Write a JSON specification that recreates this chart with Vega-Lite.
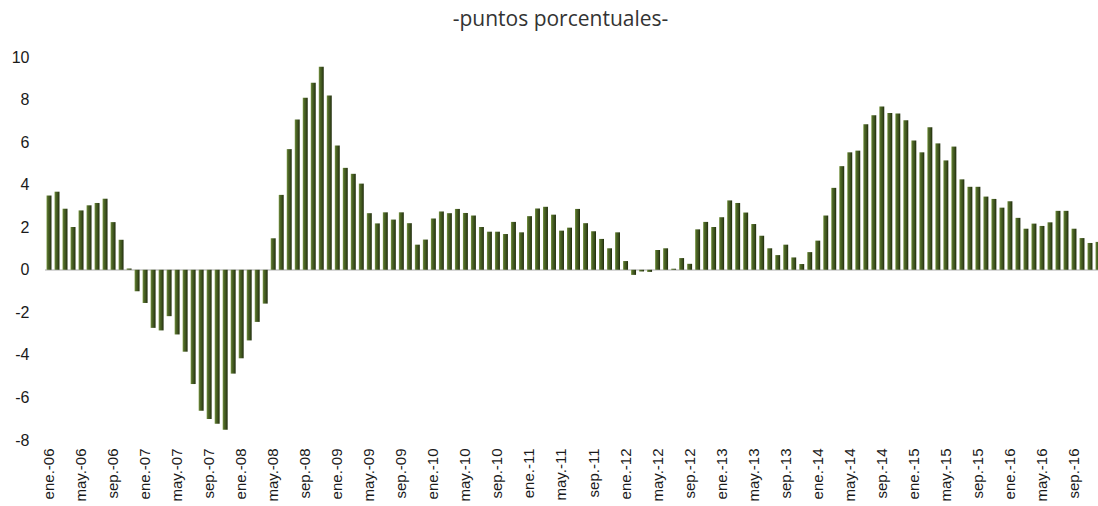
{
  "$schema": "https://vega.github.io/schema/vega-lite/v6.json",
  "autosize": "none",
  "width": 1057,
  "height": 383,
  "padding": {"left": 45, "top": 57, "right": 0, "bottom": 66},
  "background": "white",
  "title": {
    "text": "-puntos porcentuales-",
    "font": "Open Sans",
    "fontSize": 21,
    "fontWeight": "normal",
    "color": "#333333",
    "anchor": "middle",
    "frame": "group",
    "baseline": "alphabetic",
    "offset": 30,
    "dx": -13,
    "dy": 28
  },
  "config": {
    "view": {"stroke": null},
    "axis": {"labelFont": "Liberation Sans", "labelColor": "#1a1a1a", "grid": false, "ticks": false, "domain": false, "title": null}
  },
  "data": {
    "values": [
      {"mes": "ene.-06", "valor": 3.49}, {"mes": "feb.-06", "valor": 3.67}, {"mes": "mar.-06", "valor": 2.87}, {"mes": "abr.-06", "valor": 2.01},
      {"mes": "may.-06", "valor": 2.79}, {"mes": "jun.-06", "valor": 3.03}, {"mes": "jul.-06", "valor": 3.14}, {"mes": "ago.-06", "valor": 3.34},
      {"mes": "sep.-06", "valor": 2.24}, {"mes": "oct.-06", "valor": 1.41}, {"mes": "nov.-06", "valor": 0.06}, {"mes": "dic.-06", "valor": -1.01},
      {"mes": "ene.-07", "valor": -1.56}, {"mes": "feb.-07", "valor": -2.73}, {"mes": "mar.-07", "valor": -2.85}, {"mes": "abr.-07", "valor": -2.18},
      {"mes": "may.-07", "valor": -3.04}, {"mes": "jun.-07", "valor": -3.85}, {"mes": "jul.-07", "valor": -5.37}, {"mes": "ago.-07", "valor": -6.62},
      {"mes": "sep.-07", "valor": -7.01}, {"mes": "oct.-07", "valor": -7.24}, {"mes": "nov.-07", "valor": -7.52}, {"mes": "dic.-07", "valor": -4.88},
      {"mes": "ene.-08", "valor": -4.16}, {"mes": "feb.-08", "valor": -3.32}, {"mes": "mar.-08", "valor": -2.45}, {"mes": "abr.-08", "valor": -1.59},
      {"mes": "may.-08", "valor": 1.48}, {"mes": "jun.-08", "valor": 3.52}, {"mes": "jul.-08", "valor": 5.67}, {"mes": "ago.-08", "valor": 7.06},
      {"mes": "sep.-08", "valor": 8.08}, {"mes": "oct.-08", "valor": 8.79}, {"mes": "nov.-08", "valor": 9.54}, {"mes": "dic.-08", "valor": 8.19},
      {"mes": "ene.-09", "valor": 5.84}, {"mes": "feb.-09", "valor": 4.79}, {"mes": "mar.-09", "valor": 4.51}, {"mes": "abr.-09", "valor": 4.05},
      {"mes": "may.-09", "valor": 2.66}, {"mes": "jun.-09", "valor": 2.18}, {"mes": "jul.-09", "valor": 2.70}, {"mes": "ago.-09", "valor": 2.36},
      {"mes": "sep.-09", "valor": 2.70}, {"mes": "oct.-09", "valor": 2.19}, {"mes": "nov.-09", "valor": 1.18}, {"mes": "dic.-09", "valor": 1.42},
      {"mes": "ene.-10", "valor": 2.41}, {"mes": "feb.-10", "valor": 2.74}, {"mes": "mar.-10", "valor": 2.66}, {"mes": "abr.-10", "valor": 2.86},
      {"mes": "may.-10", "valor": 2.67}, {"mes": "jun.-10", "valor": 2.55}, {"mes": "jul.-10", "valor": 2.01}, {"mes": "ago.-10", "valor": 1.79},
      {"mes": "sep.-10", "valor": 1.79}, {"mes": "oct.-10", "valor": 1.68}, {"mes": "nov.-10", "valor": 2.25}, {"mes": "dic.-10", "valor": 1.76},
      {"mes": "ene.-11", "valor": 2.52}, {"mes": "feb.-11", "valor": 2.88}, {"mes": "mar.-11", "valor": 2.96}, {"mes": "abr.-11", "valor": 2.59},
      {"mes": "may.-11", "valor": 1.84}, {"mes": "jun.-11", "valor": 1.98}, {"mes": "jul.-11", "valor": 2.86}, {"mes": "ago.-11", "valor": 2.19},
      {"mes": "sep.-11", "valor": 1.81}, {"mes": "oct.-11", "valor": 1.45}, {"mes": "nov.-11", "valor": 1.01}, {"mes": "dic.-11", "valor": 1.76},
      {"mes": "ene.-12", "valor": 0.41}, {"mes": "feb.-12", "valor": -0.24}, {"mes": "mar.-12", "valor": -0.08}, {"mes": "abr.-12", "valor": -0.10},
      {"mes": "may.-12", "valor": 0.93}, {"mes": "jun.-12", "valor": 1.01}, {"mes": "jul.-12", "valor": 0.05}, {"mes": "ago.-12", "valor": 0.55},
      {"mes": "sep.-12", "valor": 0.28}, {"mes": "oct.-12", "valor": 1.90}, {"mes": "nov.-12", "valor": 2.25}, {"mes": "dic.-12", "valor": 2.01},
      {"mes": "ene.-13", "valor": 2.47}, {"mes": "feb.-13", "valor": 3.26}, {"mes": "mar.-13", "valor": 3.14}, {"mes": "abr.-13", "valor": 2.69},
      {"mes": "may.-13", "valor": 2.15}, {"mes": "jun.-13", "valor": 1.60}, {"mes": "jul.-13", "valor": 1.01}, {"mes": "ago.-13", "valor": 0.69},
      {"mes": "sep.-13", "valor": 1.18}, {"mes": "oct.-13", "valor": 0.58}, {"mes": "nov.-13", "valor": 0.27}, {"mes": "dic.-13", "valor": 0.83},
      {"mes": "ene.-14", "valor": 1.37}, {"mes": "feb.-14", "valor": 2.55}, {"mes": "mar.-14", "valor": 3.85}, {"mes": "abr.-14", "valor": 4.87},
      {"mes": "may.-14", "valor": 5.52}, {"mes": "jun.-14", "valor": 5.60}, {"mes": "jul.-14", "valor": 6.84}, {"mes": "ago.-14", "valor": 7.26},
      {"mes": "sep.-14", "valor": 7.67}, {"mes": "oct.-14", "valor": 7.37}, {"mes": "nov.-14", "valor": 7.34}, {"mes": "dic.-14", "valor": 7.03},
      {"mes": "ene.-15", "valor": 6.08}, {"mes": "feb.-15", "valor": 5.52}, {"mes": "mar.-15", "valor": 6.70}, {"mes": "abr.-15", "valor": 5.94},
      {"mes": "may.-15", "valor": 5.14}, {"mes": "jun.-15", "valor": 5.79}, {"mes": "jul.-15", "valor": 4.25}, {"mes": "ago.-15", "valor": 3.90},
      {"mes": "sep.-15", "valor": 3.90}, {"mes": "oct.-15", "valor": 3.44}, {"mes": "nov.-15", "valor": 3.33}, {"mes": "dic.-15", "valor": 2.92},
      {"mes": "ene.-16", "valor": 3.22}, {"mes": "feb.-16", "valor": 2.44}, {"mes": "mar.-16", "valor": 1.93}, {"mes": "abr.-16", "valor": 2.17},
      {"mes": "may.-16", "valor": 2.06}, {"mes": "jun.-16", "valor": 2.23}, {"mes": "jul.-16", "valor": 2.77}, {"mes": "ago.-16", "valor": 2.77},
      {"mes": "sep.-16", "valor": 1.93}, {"mes": "oct.-16", "valor": 1.49}, {"mes": "nov.-16", "valor": 1.26}, {"mes": "dic.-16", "valor": 1.31}
    ]
  },
  "layer": [
    {
      "mark": {"type": "rule", "color": "#d4d4d4", "strokeWidth": 1},
      "encoding": {"y": {"datum": 0, "type": "quantitative"}}
    },
    {
      "mark": {
        "type": "bar",
        "color": {
          "gradient": "linear",
          "x1": 0, "y1": 0, "x2": 1, "y2": 0,
          "stops": [
            {"offset": 0, "color": "#7d9a48"},
            {"offset": 0.25, "color": "#506a28"},
            {"offset": 0.65, "color": "#3b4f1c"},
            {"offset": 1, "color": "#1e2a0c"}
          ]
        }
      },
      "encoding": {
        "x": {
          "field": "mes",
          "type": "ordinal",
          "sort": null,
          "scale": {"paddingInner": 0.38, "paddingOuter": 0.19},
          "axis": {
            "values": ["ene.-06", "may.-06", "sep.-06", "ene.-07", "may.-07", "sep.-07", "ene.-08", "may.-08", "sep.-08", "ene.-09", "may.-09", "sep.-09", "ene.-10", "may.-10", "sep.-10", "ene.-11", "may.-11", "sep.-11", "ene.-12", "may.-12", "sep.-12", "ene.-13", "may.-13", "sep.-13", "ene.-14", "may.-14", "sep.-14", "ene.-15", "may.-15", "sep.-15", "ene.-16", "may.-16", "sep.-16"],
            "labelAngle": -90,
            "labelFontSize": 15,
            "labelPadding": 8,
            "labelOverlap": false
          }
        },
        "y": {
          "field": "valor",
          "type": "quantitative",
          "scale": {"domain": [-8, 10], "nice": false, "zero": true},
          "axis": {
            "values": [-8, -6, -4, -2, 0, 2, 4, 6, 8, 10],
            "labelExpr": "replace(datum.label, '\u2212', '-')",
            "labelFontSize": 16,
            "labelPadding": 16
          }
        }
      }
    }
  ]
}
